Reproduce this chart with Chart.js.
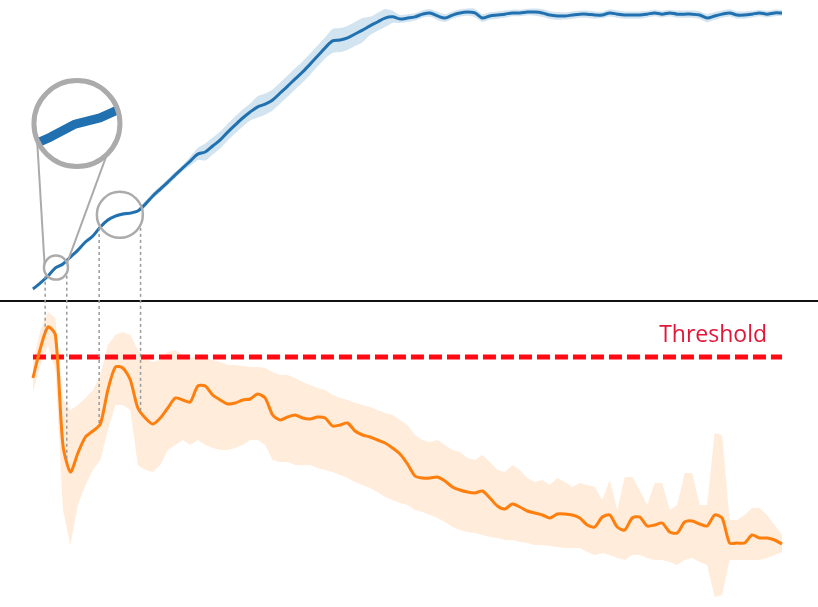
<!DOCTYPE html>
<html>
<head>
<meta charset="utf-8">
<script src="https://cdn.jsdelivr.net/npm/chart.js@4.4.1/dist/chart.umd.min.js"></script>
<style>
  html, body { margin: 0; padding: 0; background: #fff; }
  #wrap { width: 818px; height: 607px; }
</style>
</head>
<body>
<div id="wrap"><canvas id="trainChart" width="818" height="607"></canvas></div>
<script>
// accuracy (top panel), mean and spread
const accMean = [
  4.0, 6.0, 8.3, 11.0, 12.3, 14.6, 16.9, 19.6, 21.6, 24.6,
  26.9, 28.2, 28.9, 29.2, 29.9, 32.2, 34.9, 37.2, 39.5, 41.9,
  44.2, 46.5, 48.8, 49.5, 51.5, 53.5, 56.1, 58.5, 60.8, 62.8,
  64.5, 65.4, 66.8, 69.1, 71.4, 73.8, 76.1, 78.7, 81.4, 84.1,
  86.4, 86.7, 87.4, 88.7, 90.0, 91.4, 92.7, 94.0, 94.4, 93.7,
  94.0, 94.4, 95.3, 95.7, 94.7, 94.0, 95.0, 95.7, 96.0, 95.7,
  94.0, 94.7, 95.0, 95.3, 95.7, 95.7, 96.0, 96.0, 95.7, 95.0,
  94.7, 94.7, 95.0, 95.3, 95.3, 95.0, 95.0, 95.7, 95.3, 95.0,
  95.0, 95.0, 95.3, 95.7, 95.3, 95.7, 95.3, 95.3, 95.3, 95.0,
  94.0, 94.7, 95.3, 95.7, 95.0, 95.0, 95.3, 95.7, 95.3, 95.7,
  95.7
];
const accSpread = [
  0.6, 0.6, 0.6, 0.6, 0.6, 0.6, 0.6, 0.6, 0.6, 0.6,
  0.6, 0.6, 0.6, 0.6, 0.6, 1.0, 1.0, 1.0, 1.0, 1.0,
  1.0, 1.5, 2.0, 2.8, 2.8, 2.8, 2.8, 2.8, 2.8, 2.8,
  3.5, 3.5, 3.5, 3.5, 3.5, 3.5, 3.5, 3.5, 3.5, 3.5,
  4.0, 4.0, 4.0, 4.0, 4.0, 3.0, 3.0, 3.0, 2.0, 1.3,
  1.3, 1.2, 1.2, 1.3, 1.4, 1.3, 1.2, 1.2, 1.2, 1.4,
  1.3, 1.2, 1.2, 1.2, 1.1, 1.1, 1.1, 1.2, 1.3, 1.3,
  1.3, 1.2, 1.2, 1.2, 1.2, 1.2, 1.1, 1.2, 1.2, 1.2,
  1.2, 1.2, 1.1, 1.1, 1.1, 1.1, 1.2, 1.2, 1.2, 1.3,
  1.4, 1.3, 1.2, 1.2, 1.2, 1.2, 1.1, 1.1, 1.1, 1.1,
  1.0
];

// loss (bottom panel), mean and band edges
const lossMean = [
  2.29, 2.59, 2.80, 2.72, 1.62, 1.35, 1.54, 1.70, 1.76, 1.83,
  2.17, 2.40, 2.39, 2.27, 1.99, 1.89, 1.83, 1.89, 1.99, 2.09,
  2.07, 2.05, 2.21, 2.21, 2.12, 2.07, 2.03, 2.04, 2.07, 2.08,
  2.13, 2.09, 1.92, 1.87, 1.90, 1.92, 1.89, 1.88, 1.90, 1.89,
  1.81, 1.82, 1.84, 1.76, 1.72, 1.70, 1.67, 1.64, 1.59, 1.53,
  1.43, 1.31, 1.29, 1.29, 1.30, 1.26, 1.20, 1.17, 1.15, 1.14,
  1.16, 1.09, 1.01, 0.98, 1.03, 1.00, 0.96, 0.94, 0.92, 0.89,
  0.93, 0.93, 0.92, 0.89, 0.82, 0.80, 0.90, 0.92, 0.80, 0.77,
  0.89, 0.90, 0.81, 0.82, 0.84, 0.75, 0.74, 0.85, 0.86, 0.83,
  0.81, 0.92, 0.89, 0.64, 0.64, 0.64, 0.72, 0.69, 0.69, 0.67,
  0.63
];
const lossHigh = [
  2.45, 2.77, 2.95, 2.89, 2.07, 1.97, 2.02, 2.09, 2.17, 2.32,
  2.62, 2.72, 2.75, 2.72, 2.57, 2.49, 2.45, 2.47, 2.55, 2.57,
  2.52, 2.49, 2.52, 2.49, 2.47, 2.45, 2.42, 2.42, 2.41, 2.40,
  2.40, 2.39, 2.35, 2.32, 2.32, 2.29, 2.25, 2.22, 2.19, 2.17,
  2.12, 2.09, 2.07, 2.04, 2.02, 2.00, 1.97, 1.94, 1.92, 1.87,
  1.82, 1.72, 1.67, 1.65, 1.67, 1.62, 1.57, 1.55, 1.49, 1.47,
  1.52, 1.45, 1.37, 1.35, 1.42, 1.37, 1.29, 1.25, 1.27, 1.22,
  1.29, 1.25, 1.20, 1.24, 1.22, 1.20, 1.07, 1.27, 0.97, 1.30,
  1.30, 1.17, 1.02, 1.24, 1.24, 0.97, 1.02, 1.34, 1.34, 1.02,
  1.02, 1.74, 1.72, 0.87, 0.87, 0.92, 0.99, 0.99, 0.92, 0.82,
  0.72
];
const lossLow = [
  2.15, 2.42, 2.62, 2.37, 0.97, 0.62, 1.02, 1.22, 1.37, 1.47,
  1.77, 2.02, 2.02, 1.97, 1.42, 1.37, 1.35, 1.42, 1.57, 1.62,
  1.67, 1.62, 1.67, 1.62, 1.59, 1.57, 1.57, 1.59, 1.62, 1.67,
  1.67, 1.62, 1.47, 1.45, 1.45, 1.42, 1.42, 1.42, 1.39, 1.37,
  1.35, 1.32, 1.29, 1.25, 1.22, 1.19, 1.15, 1.10, 1.07, 1.04,
  1.02, 0.97, 0.95, 0.92, 0.89, 0.85, 0.80, 0.77, 0.75, 0.74,
  0.72, 0.70, 0.69, 0.67, 0.67, 0.65, 0.64, 0.62, 0.62, 0.61,
  0.60, 0.59, 0.59, 0.59, 0.55, 0.52, 0.54, 0.52, 0.49, 0.47,
  0.52, 0.52, 0.49, 0.47, 0.47, 0.45, 0.42, 0.47, 0.49, 0.45,
  0.42, 0.10, 0.12, 0.47, 0.47, 0.47, 0.47, 0.47, 0.49, 0.52,
  0.55
];
const threshold = 2.5;
const thresholdLabel = 'Threshold';

const epochs = accMean.map((v, i) => i);

// circled spots on the accuracy curve (epoch, circle radius in px)
const zoomSpots = [{ epoch: 3.07, radius: 12 }, { epoch: 11.6, radius: 23 }];

const blue = '#2170b0';
const orange = '#ff7f0e';

function valueAt(arr, e) {
  const i = Math.max(0, Math.min(arr.length - 2, Math.floor(e)));
  const f = e - i;
  return arr[i] * (1 - f) + arr[i + 1] * f;
}

const lensPlugin = {
  id: 'lens',
  afterDatasetsDraw(chart) {
    const ctx = chart.ctx;
    const x = chart.scales.x, yAcc = chart.scales.yAcc, yLoss = chart.scales.yLoss;
    const grey = '#ababab';
    ctx.save();

    // separator between the panels
    const ySep = yAcc.getPixelForValue(0);
    ctx.strokeStyle = '#111';
    ctx.lineWidth = 2;
    ctx.beginPath();
    ctx.moveTo(0, ySep);
    ctx.lineTo(chart.width, ySep);
    ctx.stroke();

    // threshold label
    ctx.fillStyle = '#e3163a';
    ctx.font = '23px "Open Sans"';
    ctx.textAlign = 'right';
    ctx.textBaseline = 'alphabetic';
    ctx.fillText(thresholdLabel, x.getPixelForValue(epochs[epochs.length - 1]) - 15,
      yLoss.getPixelForValue(threshold) - 15);

    const spots = zoomSpots.map(s => ({
      cx: x.getPixelForValue(s.epoch),
      cy: yAcc.getPixelForValue(valueAt(accMean, s.epoch)),
      r: s.radius
    }));

    // dotted drop lines from the circles to the loss curve
    ctx.setLineDash([3, 3]);
    ctx.strokeStyle = '#9a9a9a';
    ctx.lineWidth = 1.5;
    spots.forEach(s => {
      [-0.9, 0.9].forEach(k => {
        const px = s.cx + k * s.r;
        const top = s.cy + Math.sqrt(1 - k * k) * s.r + 3;
        const bot = yLoss.getPixelForValue(valueAt(lossMean, x.getValueForPixel(px)));
        ctx.beginPath();
        ctx.moveTo(px, top);
        ctx.lineTo(px, bot);
        ctx.stroke();
      });
    });
    ctx.setLineDash([]);

    // small circles
    ctx.strokeStyle = grey;
    ctx.lineWidth = 2.5;
    spots.forEach(s => {
      ctx.beginPath();
      ctx.arc(s.cx, s.cy, s.r, 0, Math.PI * 2);
      ctx.stroke();
    });

    // magnifier for the first spot
    const s = spots[0];
    const CX = s.cx + 21, CY = s.cy - 144, R = 43;
    const deg = Math.PI / 180;
    const pt = (cx, cy, r, a) => [cx + r * Math.cos(a * deg), cy + r * Math.sin(a * deg)];
    ctx.lineWidth = 2;
    [[198, 158], [-22, 46]].forEach(([a1, a2]) => {
      const p1 = pt(s.cx, s.cy, s.r, a1), p2 = pt(CX, CY, R, a2);
      ctx.beginPath();
      ctx.moveTo(p1[0], p1[1]);
      ctx.lineTo(p2[0], p2[1]);
      ctx.stroke();
    });

    ctx.save();
    ctx.beginPath();
    ctx.arc(CX, CY, R, 0, Math.PI * 2);
    ctx.fillStyle = '#fff';
    ctx.fill();
    ctx.clip();
    ctx.strokeStyle = blue;
    ctx.lineWidth = 9;
    ctx.lineJoin = 'round';
    ctx.beginPath();
    for (let i = 0; i <= 8; i++) {
      const px = x.getPixelForValue(epochs[i]);
      const py = yAcc.getPixelForValue(accMean[i]);
      const X = CX + (px - s.cx) * 3.3, Y = CY + (py - s.cy) * 1.6;
      if (i === 0) ctx.moveTo(X, Y); else ctx.lineTo(X, Y);
    }
    ctx.stroke();
    ctx.restore();

    ctx.strokeStyle = grey;
    ctx.lineWidth = 5;
    ctx.beginPath();
    ctx.arc(CX, CY, R, 0, Math.PI * 2);
    ctx.stroke();

    ctx.restore();
  }
};

new Chart(document.getElementById('trainChart'), {
  type: 'line',
  data: {
    labels: epochs,
    datasets: [
      { label: 'accuracy', data: accMean, yAxisID: 'yAcc', borderColor: blue, borderWidth: 3,
        pointRadius: 0, tension: 0.3, fill: false, order: 0 },
      { label: 'loss', data: lossMean, yAxisID: 'yLoss', borderColor: orange, borderWidth: 3,
        pointRadius: 0, tension: 0.25, fill: false, order: 0 },
      { label: 'threshold', data: epochs.map(() => threshold), yAxisID: 'yLoss', borderColor: '#ff0a14',
        borderWidth: 5, borderDash: [13, 5], pointRadius: 0, fill: false, order: 1 },
      { label: 'acc hi', data: accMean.map((v, i) => v + accSpread[i]), yAxisID: 'yAcc',
        borderWidth: 0, pointRadius: 0, tension: 0.2, fill: false, order: 2 },
      { label: 'acc lo', data: accMean.map((v, i) => v - accSpread[i]), yAxisID: 'yAcc',
        borderWidth: 0, pointRadius: 0, tension: 0.2, fill: '-1',
        backgroundColor: 'rgba(31,119,180,0.2)', order: 2 },
      { label: 'loss hi', data: lossHigh, yAxisID: 'yLoss',
        borderWidth: 0, pointRadius: 0, tension: 0, fill: false, order: 2 },
      { label: 'loss lo', data: lossLow, yAxisID: 'yLoss',
        borderWidth: 0, pointRadius: 0, tension: 0, fill: '-1',
        backgroundColor: 'rgba(255,127,14,0.15)', order: 2 }
    ]
  },
  options: {
    responsive: false,
    animation: false,
    events: [],
    layout: { padding: 0 },
    plugins: {
      legend: { display: false },
      tooltip: { enabled: false }
    },
    scales: {
      x: { type: 'linear', min: -4.4, max: 104.8, display: false },
      yAcc: { type: 'linear', min: -101.66, max: 100, display: false },
      yLoss: { type: 'linear', min: 0, max: 6.07, display: false }
    }
  },
  plugins: [lensPlugin]
});
</script>
</body>
</html>
